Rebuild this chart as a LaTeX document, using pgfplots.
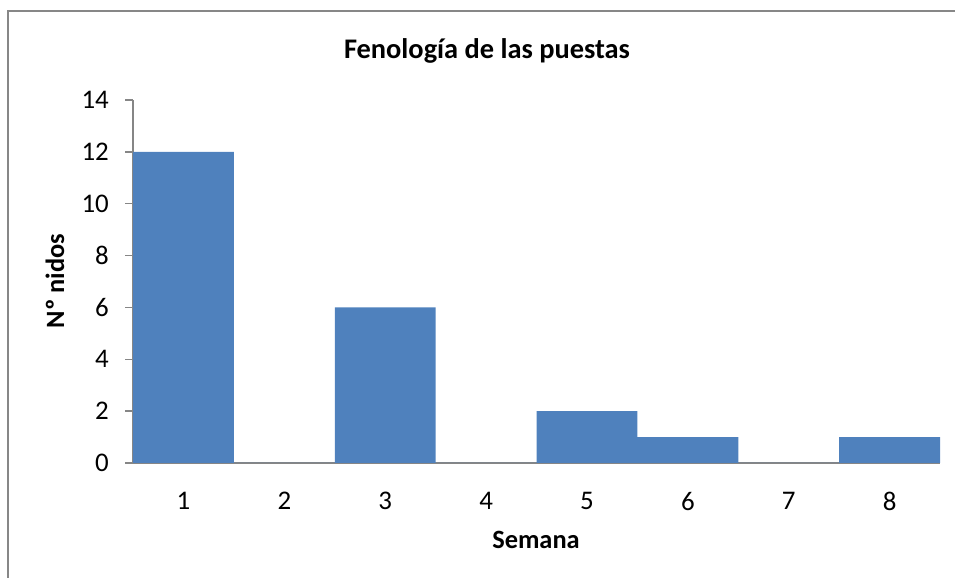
\documentclass[border=0pt]{standalone}
\usepackage{pgfplots}
\pgfplotsset{compat=1.18}
\usepackage{fontspec}
\setmainfont{Carlito}
\definecolor{barblue}{HTML}{4F81BD}
\definecolor{axisgray}{HTML}{868686}
\definecolor{framegray}{HTML}{878787}
\begin{document}
\begin{tikzpicture}[x=1bp,y=1bp]
\useasboundingbox (0,0) rectangle (955,578);
\draw[framegray,line width=2bp] (8,0) -- (8,567) -- (955,567);
\begin{axis}[
  at={(133bp,115bp)}, anchor=south west,
  scale only axis, width=807bp, height=363bp,
  xmin=0.5, xmax=8.5, ymin=0, ymax=14,
  axis x line*=bottom, axis y line*=left,
  axis line style={axisgray,line width=1.5bp,-},
  xtick={1,2,3,4,5,6,7,8},
  ytick={0,2,4,6,8,10,12,14},
  x tick style={draw=none},
  y tick style={axisgray,line width=1.5bp},
  tick align=outside,
  major tick length=8bp,
  /pgf/number format/assume math mode=true,
  tick label style={font=\fontsize{27}{32}\selectfont, text=black},
  yticklabel style={inner sep=0pt, xshift=-16bp},
  xticklabel style={inner sep=0pt, yshift=-21bp},
  ybar, bar width=1, bar shift=0pt,
  clip=false,
]
\addplot[fill=barblue, draw=none] coordinates {(1,12) (2,0) (3,6) (4,0) (5,2) (6,1) (7,0) (8,1)};
\end{axis}
\node[font=\bfseries\fontsize{28.5}{34}\selectfont] at (487,527) {Fenología de las puestas};
\node[font=\bfseries\fontsize{26.5}{32}\selectfont, rotate=90] at (55,297) {Nº nidos};
\node[font=\bfseries\fontsize{26.5}{32}\selectfont] at (536,38) {Semana};
\end{tikzpicture}
\end{document}
